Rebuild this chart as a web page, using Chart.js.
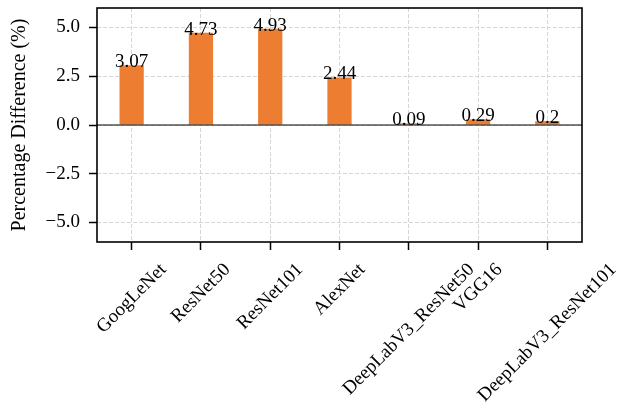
<!DOCTYPE html>
<html>
<head>
<meta charset="utf-8">
<script src="https://cdn.jsdelivr.net/npm/chart.js@4"></script>
<style>
  body { margin: 0; background: #fff; }
</style>
</head>
<body>
<canvas id="myChart" width="621" height="413"></canvas>
<script>
const models = ['GoogLeNet', 'ResNet50', 'ResNet101', 'AlexNet', 'DeepLabV3_ResNet50', 'VGG16', 'DeepLabV3_ResNet101'];
const diffs = [3.07, 4.73, 4.93, 2.44, 0.09, 0.29, 0.2];
const yTicks = [-5, -2.5, 0, 2.5, 5];

const serif = '"Liberation Serif", "Times New Roman", serif';
const gridColor = '#d6d6d6';
const fs = 19;

// zero line, value labels, frame and the rotated category names
const extras = {
  id: 'extras',
  afterDatasetsDraw(chart) {
    const ctx = chart.ctx;
    const a = chart.chartArea;
    const x = chart.scales.x;
    const y = chart.scales.y;
    ctx.save();

    let y0 = y.getPixelForValue(0);
    ctx.strokeStyle = '#000';
    ctx.lineWidth = 1;
    ctx.beginPath();
    ctx.moveTo(a.left, y0);
    ctx.lineTo(a.right, y0);
    ctx.stroke();

    ctx.font = fs + 'px ' + serif;
    ctx.fillStyle = '#000';
    ctx.textAlign = 'center';
    ctx.textBaseline = 'alphabetic';
    chart.getDatasetMeta(0).data.forEach((bar, i) => {
      ctx.fillText(String(diffs[i]), bar.x, bar.y + 2);
    });

    ctx.lineWidth = 1.6;
    ctx.strokeRect(a.left, a.top, a.right - a.left, a.bottom - a.top);

    ctx.textBaseline = 'middle';
    models.forEach((m, i) => {
      let px = x.getPixelForTick(i);
      let w = ctx.measureText(m).width;
      let half = (w + fs) * Math.SQRT1_2 / 2;
      ctx.save();
      ctx.translate(px, a.bottom + 18 + half);
      ctx.rotate(-Math.PI / 4);
      ctx.fillText(m, 0, 0);
      ctx.restore();
    });

    ctx.restore();
  }
};

new Chart('myChart', {
  type: 'bar',
  data: {
    labels: models,
    datasets: [{
      data: diffs,
      backgroundColor: '#ED7D31',
      barPercentage: 0.35,
      categoryPercentage: 1
    }]
  },
  options: {
    responsive: false,
    animation: false,
    devicePixelRatio: 1,
    layout: { padding: { top: 8, right: 39, left: 0, bottom: 0 } },
    plugins: {
      legend: { display: false },
      tooltip: { enabled: false }
    },
    scales: {
      x: {
        grid: { offset: false, color: gridColor, lineWidth: 1, tickLength: 8, tickColor: '#000', tickWidth: 1.5 },
        border: { display: false, dash: [4, 2] },
        ticks: { display: false },
        afterFit(s) {
          s.height = 413 - 242;
          s.paddingLeft = 0;
          s.paddingRight = 0;
        }
      },
      y: {
        min: -6,
        max: 6,
        afterBuildTicks(s) { s.ticks = yTicks.map(v => ({ value: v })); },
        grid: { color: gridColor, lineWidth: 1, tickLength: 8, tickColor: '#000', tickWidth: 1.5 },
        border: { display: false, dash: [4, 2] },
        ticks: {
          color: '#000',
          padding: 9,
          font: { family: serif, size: fs },
          callback: v => (v < 0 ? '\u2212' : '') + Math.abs(v).toFixed(1)
        },
        title: {
          display: true,
          text: 'Percentage Difference (%)',
          color: '#000',
          font: { family: serif, size: 20 },
          padding: { top: 8, bottom: 0 }
        },
        afterFit(s) {
          s.width = 97;
          s.paddingTop = 0;
          s.paddingBottom = 0;
        }
      }
    }
  },
  plugins: [extras]
});
</script>
</body>
</html>
